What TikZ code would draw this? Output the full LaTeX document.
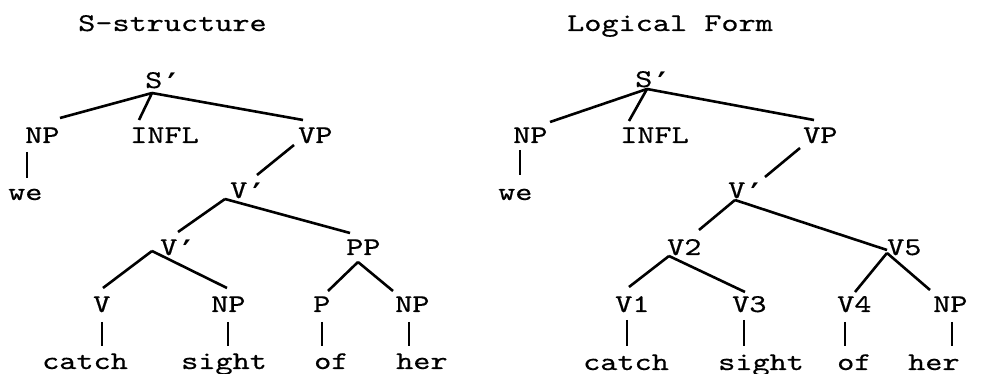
\documentclass[tikz,border=0pt]{standalone}
\usepackage{fontspec}
\usetikzlibrary{calc}
\newfontfamily\treefont{lmmono10-regular.otf}[FakeStretch=1.28,FakeBold=0.5]
\newfontfamily\primefont{DejaVu Sans Mono}
\newcommand\pr{\raisebox{-8pt}{\primefont\bfseries\fontsize{31}{31}\selectfont ′}}
\tikzset{
  lbl/.style={inner sep=0pt, anchor=base west, font=\treefont\fontsize{25.5}{25.5}\selectfont},
  edge/.style={line width=2.6pt, black}
}
\begin{document}
\begin{tikzpicture}[x=1pt,y=-1pt]
\fill[white] (0,0) rectangle (997,374);
\useasboundingbox (0,0) rectangle (997,374);

% ---------------- left tree: S-structure ----------------
\node[lbl] (Ltitle) at (78,31) {S-structure};
\node[lbl] (LS) at (145,88) {S\pr};
\node[lbl] (LNP) at (25,143) {NP};
\node[lbl] (LINFL) at (130,143) {INFL};
\node[lbl] (LVP) at (298,143) {VP};
\node[lbl] (Lwe) at (8,200) {we};
\node[lbl] (LVa) at (230,198) {V\pr};
\node[lbl] (LVb) at (160,255) {V\pr};
\node[lbl] (LPP) at (346,255) {PP};
\node[lbl] (LV) at (93,312) {V};
\node[lbl] (LNPb) at (211,312) {NP};
\node[lbl] (LP) at (313,312) {P};
\node[lbl] (LNPc) at (395,312) {NP};
\node[lbl] (Lcatch) at (42,369) {catch};
\node[lbl] (Lsight) at (181,369) {sight};
\node[lbl] (Lof) at (314,369) {of};
\node[lbl] (Lher) at (396,369) {her};

\draw[edge] ($(LS.base west)+(7,5)$) -- ($(LNP.base west)+(35,-25)$);
\draw[edge] ($(LS.base west)+(7,5)$) -- ($(LINFL.base west)+(9,-23)$);
\draw[edge] ($(LS.base west)+(7,5)$) -- ($(LVP.base west)+(5,-23)$);
\draw[edge] ($(LNP.base west)+(2,9)$) -- ($(Lwe.base west)+(19,-22)$);
\draw[edge] ($(LVP.base west)+(-4,2)$) -- ($(LVa.base west)+(27,-23)$);
\draw[edge] ($(LVa.base west)+(-5,1)$) -- ($(LVb.base west)+(18,-23)$);
\draw[edge] ($(LVa.base west)+(-5,1)$) -- ($(LPP.base west)+(4,-22)$);
\draw[edge] ($(LVb.base west)+(-8,-4)$) -- ($(LV.base west)+(10,-24)$);
\draw[edge] ($(LVb.base west)+(-8,-4)$) -- ($(LNPb.base west)+(16,-24)$);
\draw[edge] ($(LPP.base west)+(12,7)$) -- ($(LP.base west)+(15,-21)$);
\draw[edge] ($(LPP.base west)+(12,7)$) -- ($(LNPc.base west)+(-2,-21)$);
\draw[edge] ($(LV.base west)+(9,10)$) -- ($(Lcatch.base west)+(60,-23)$);
\draw[edge] ($(LNPb.base west)+(17,10)$) -- ($(Lsight.base west)+(47,-23)$);
\draw[edge] ($(LP.base west)+(9,10)$) -- ($(Lof.base west)+(8,-23)$);
\draw[edge] ($(LNPc.base west)+(14,10)$) -- ($(Lher.base west)+(13,-23)$);

% ---------------- right tree: Logical Form ----------------
\node[lbl] (Rtitle) at (567,31) {Logical Form};
\node[lbl] (RS) at (635,87) {S\pr};
\node[lbl] (RNP) at (513,143) {NP};
\node[lbl] (RINFL) at (620,143) {INFL};
\node[lbl] (RVP) at (803,143) {VP};
\node[lbl] (Rwe) at (498,200) {we};
\node[lbl] (RVa) at (728,198) {V\pr};
\node[lbl] (RV2) at (667,255) {V2};
\node[lbl] (RV5) at (887,255) {V5};
\node[lbl] (RV1) at (615,312) {V1};
\node[lbl] (RV3) at (732,312) {V3};
\node[lbl] (RV4) at (837,312) {V4};
\node[lbl] (RNPb) at (933,312) {NP};
\node[lbl] (Rcatch) at (583,370) {catch};
\node[lbl] (Rsight) at (718,370) {sight};
\node[lbl] (Rof) at (837,370) {of};
\node[lbl] (Rher) at (908,370) {her};

\draw[edge] ($(RS.base west)+(12,2)$) -- ($(RNP.base west)+(37,-21)$);
\draw[edge] ($(RS.base west)+(12,2)$) -- ($(RINFL.base west)+(9,-22)$);
\draw[edge] ($(RS.base west)+(12,2)$) -- ($(RVP.base west)+(11,-23)$);
\draw[edge] ($(RNP.base west)+(7,7)$) -- ($(Rwe.base west)+(22,-25)$);
\draw[edge] ($(RVP.base west)+(-3,5)$) -- ($(RVa.base west)+(37,-21)$);
\draw[edge] ($(RVa.base west)+(7,2)$) -- ($(RV2.base west)+(32,-25)$);
\draw[edge] ($(RVa.base west)+(7,2)$) -- ($(RV5.base west)+(0,-5)$);
\draw[edge] ($(RV2.base west)+(2,1)$) -- ($(RV1.base west)+(14,-25)$);
\draw[edge] ($(RV2.base west)+(2,1)$) -- ($(RV3.base west)+(13,-20)$);
\draw[edge] ($(RV5.base west)+(0,-2)$) -- ($(RV4.base west)+(18,-20)$);
\draw[edge] ($(RV5.base west)+(0,-2)$) -- ($(RNPb.base west)+(-3,-22)$);
\draw[edge] ($(RV1.base west)+(12,8)$) -- ($(Rcatch.base west)+(44,-24)$);
\draw[edge] ($(RV3.base west)+(12,8)$) -- ($(Rsight.base west)+(26,-24)$);
\draw[edge] ($(RV4.base west)+(8,10)$) -- ($(Rof.base west)+(8,-24)$);
\draw[edge] ($(RNPb.base west)+(19,10)$) -- ($(Rher.base west)+(44,-24)$);
\end{tikzpicture}
\end{document}
